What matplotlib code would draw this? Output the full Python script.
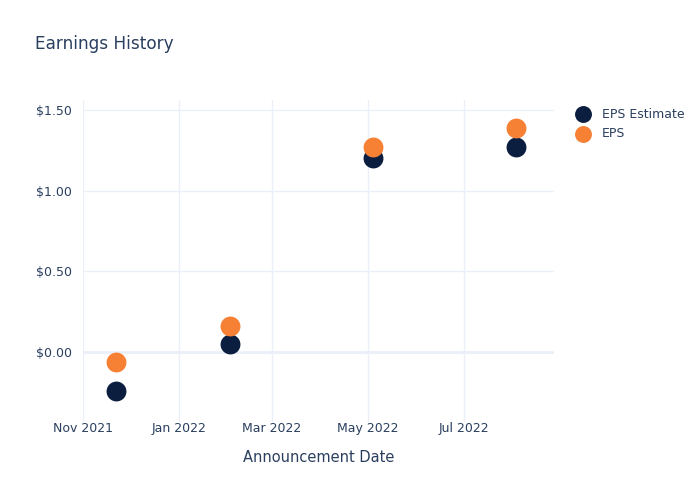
import matplotlib
matplotlib.use("Agg")
import matplotlib.pyplot as plt
import numpy as np
from datetime import datetime

dates = ["2021-11-22", "2022-02-02", "2022-05-04", "2022-08-03"]
eps_estimate = [-0.24, 0.05, 1.20, 1.27]
eps_actual = [-0.06, 0.16, 1.27, 1.39]
series_names = ["EPS Estimate", "EPS"]
colors = ["#0b1e40", "#f68034"]

x = [datetime.strptime(d, "%Y-%m-%d") for d in dates]
txt = "#2a3f5f"
grid = "#ebf0f8"

fig = plt.figure(figsize=(7, 5), dpi=100)
ax = fig.add_axes([0.1186, 0.156, 0.6729, 0.644])
ax.set_facecolor("white")

ax.scatter(x, eps_estimate, s=205, color=colors[0], zorder=3, label=series_names[0], linewidths=0)
ax.scatter(x, eps_actual, s=205, color=colors[1], zorder=3, label=series_names[1], linewidths=0)

ax.set_xlim(datetime(2021, 11, 1), datetime(2022, 8, 27))
ax.set_ylim(-0.434, 1.562)
ax.set_yticks([0, 0.5, 1.0, 1.5])
ax.set_yticklabels(["$0.00", "$0.50", "$1.00", "$1.50"])
ticks = [datetime(2021, 11, 1), datetime(2022, 1, 1), datetime(2022, 3, 1), datetime(2022, 5, 1), datetime(2022, 7, 1)]
ax.set_xticks(ticks)
ax.set_xticklabels(["Nov 2021", "Jan 2022", "Mar 2022", "May 2022", "Jul 2022"])

ax.grid(True, color=grid, linewidth=1, zorder=0)
ax.axhline(0, color=grid, linewidth=2, zorder=1)
for s in ax.spines.values():
    s.set_visible(False)
ax.tick_params(axis="both", length=0, colors=txt, labelsize=9)
ax.tick_params(axis="x", pad=0)
ax.tick_params(axis="y", pad=8)

ax.set_xlabel("Announcement Date", color=txt, fontsize=10.5, labelpad=11)
fig.text(0.05, 0.912, "Earnings History", color=txt, fontsize=12.2, va="center", ha="left")

leg = ax.legend(loc="upper left", bbox_to_anchor=(1.024, 0.992), frameon=False,
                fontsize=9, labelcolor=txt, handletextpad=0.55, borderaxespad=0,
                labelspacing=0.55, markerscale=0.85)
fig.savefig("out.png", dpi=100, facecolor="white")
